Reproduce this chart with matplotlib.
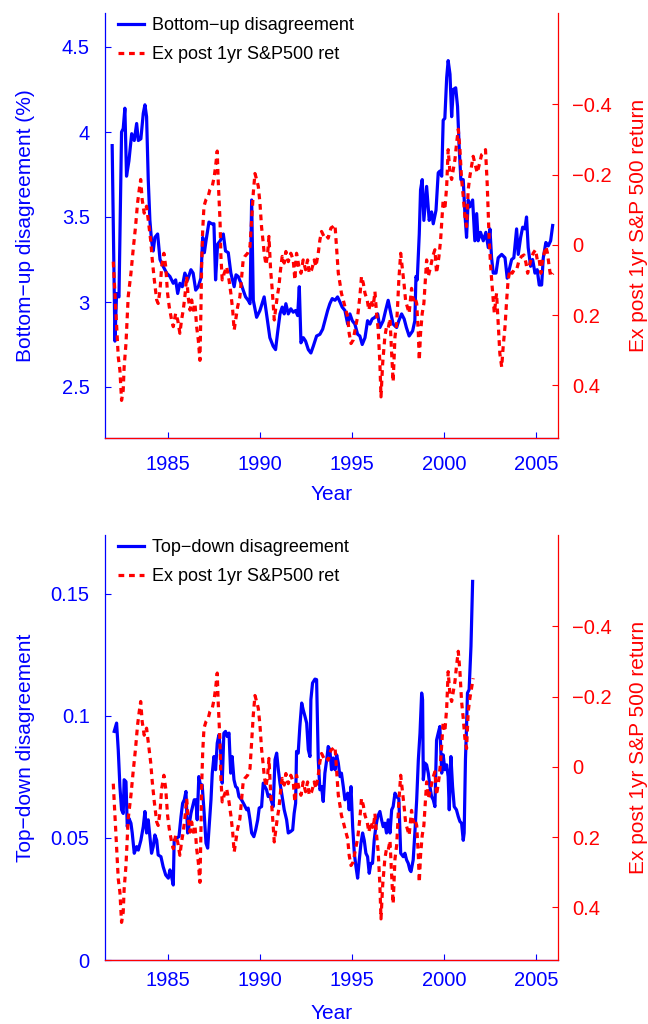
#!/usr/bin/env python3
import numpy as np
import matplotlib
matplotlib.use('Agg')
import matplotlib.pyplot as plt
from matplotlib.ticker import FuncFormatter

plt.rcParams['font.family'] = ['Liberation Sans', 'DejaVu Sans']

# Bottom-up disagreement (%)
bu_year = [1981.97, 1982.12, 1982.21, 1982.34, 1982.48, 1982.57, 1982.66, 1982.75, 1982.88, 1983.03,
           1983.17, 1983.30, 1983.39, 1983.53, 1983.66, 1983.75, 1983.84, 1983.93, 1984.02, 1984.11,
           1984.20, 1984.29, 1984.44, 1984.57, 1984.74, 1984.93, 1985.11, 1985.29, 1985.42, 1985.53,
           1985.65, 1985.78, 1985.92, 1986.07, 1986.25, 1986.37, 1986.51, 1986.65, 1986.79, 1986.89,
           1986.98, 1987.07, 1987.23, 1987.38, 1987.50, 1987.59, 1987.70, 1987.84, 1988.01, 1988.13,
           1988.28, 1988.42, 1988.60, 1988.70, 1988.82, 1988.97, 1989.09, 1989.22, 1989.36, 1989.46,
           1989.55, 1989.64, 1989.82, 1990.00, 1990.23, 1990.36, 1990.54, 1990.72, 1990.85, 1990.96,
           1991.09, 1991.21, 1991.32, 1991.41, 1991.54, 1991.68, 1991.81, 1991.94, 1992.05, 1992.14,
           1992.23, 1992.36, 1992.48, 1992.63, 1992.77, 1992.90, 1993.08, 1993.26, 1993.41, 1993.53,
           1993.68, 1993.80, 1993.93, 1994.08, 1994.22, 1994.35, 1994.47, 1994.62, 1994.77, 1994.89,
           1995.02, 1995.16, 1995.31, 1995.43, 1995.56, 1995.71, 1995.85, 1995.98, 1996.10, 1996.25,
           1996.40, 1996.52, 1996.70, 1996.83, 1996.97, 1997.12, 1997.24, 1997.43, 1997.55, 1997.70,
           1997.84, 1997.96, 1998.11, 1998.30, 1998.42, 1998.48, 1998.55, 1998.66, 1998.73, 1998.82,
           1998.91, 1999.06, 1999.20, 1999.33, 1999.42, 1999.57, 1999.69, 1999.78, 1999.88, 1999.96,
           2000.05, 2000.15, 2000.23, 2000.33, 2000.42, 2000.51, 2000.64, 2000.74, 2000.83, 2000.92,
           2001.05, 2001.14, 2001.23, 2001.32, 2001.41, 2001.56, 2001.68, 2001.78, 2001.86, 2001.99,
           2002.14, 2002.28, 2002.41, 2002.50, 2002.59, 2002.68, 2002.83, 2002.95, 2003.14, 2003.32,
           2003.44, 2003.55, 2003.68, 2003.80, 2003.95, 2004.04, 2004.17, 2004.28, 2004.40, 2004.49,
           2004.58, 2004.71, 2004.82, 2004.95, 2005.07, 2005.18, 2005.31, 2005.40, 2005.54, 2005.67,
           2005.80, 2005.91]
bu_val = [3.92, 2.77, 3.05, 3.03, 4.00, 4.02, 4.14, 3.74, 3.83, 3.99,
          3.95, 4.05, 3.95, 3.96, 4.11, 4.16, 4.09, 3.72, 3.48, 3.36,
          3.30, 3.38, 3.40, 3.25, 3.21, 3.17, 3.15, 3.11, 3.13, 3.05,
          3.11, 3.09, 3.17, 3.13, 3.19, 3.17, 3.07, 3.09, 3.14, 3.38,
          3.29, 3.36, 3.47, 3.46, 3.46, 3.13, 3.34, 3.36, 3.40, 3.30,
          3.29, 3.17, 3.09, 3.16, 3.15, 3.11, 3.07, 3.03, 3.01, 2.99,
          3.60, 3.01, 2.91, 2.95, 3.03, 2.93, 2.79, 2.74, 2.72, 2.82,
          2.93, 2.97, 2.93, 2.99, 2.93, 2.96, 2.94, 2.95, 2.92, 3.09,
          2.76, 2.79, 2.77, 2.72, 2.70, 2.74, 2.80, 2.81, 2.84, 2.89,
          2.95, 2.99, 3.02, 3.01, 3.03, 3.00, 2.97, 2.95, 2.87, 2.93,
          2.89, 2.87, 2.81, 2.80, 2.75, 2.79, 2.89, 2.87, 2.90, 2.91,
          2.93, 2.85, 2.89, 2.95, 3.01, 2.93, 2.87, 2.85, 2.89, 2.93,
          2.90, 2.85, 2.80, 2.83, 2.89, 3.15, 3.13, 3.40, 3.66, 3.72,
          3.48, 3.68, 3.48, 3.53, 3.46, 3.54, 3.76, 3.77, 3.74, 4.07,
          4.08, 4.32, 4.42, 4.34, 4.09, 4.25, 4.26, 4.15, 3.91, 3.72,
          3.72, 3.52, 3.38, 3.60, 3.56, 3.60, 3.36, 3.52, 3.36, 3.41,
          3.36, 3.41, 3.32, 3.43, 3.26, 3.17, 3.17, 3.26, 3.28, 3.26,
          3.14, 3.19, 3.25, 3.26, 3.43, 3.28, 3.38, 3.44, 3.43, 3.50,
          3.32, 3.21, 3.25, 3.17, 3.19, 3.10, 3.10, 3.26, 3.35, 3.33,
          3.36, 3.45]

# Top-down disagreement
td_year = [1982.08, 1982.21, 1982.30, 1982.39, 1982.48, 1982.57, 1982.62, 1982.72, 1982.79, 1982.88,
           1982.99, 1983.06, 1983.17, 1983.30, 1983.39, 1983.53, 1983.66, 1983.75, 1983.84, 1983.93,
           1984.02, 1984.11, 1984.20, 1984.29, 1984.39, 1984.47, 1984.62, 1984.74, 1984.88, 1985.02,
           1985.11, 1985.20, 1985.29, 1985.34, 1985.47, 1985.60, 1985.71, 1985.80, 1985.89, 1985.98,
           1986.07, 1986.14, 1986.25, 1986.34, 1986.43, 1986.52, 1986.59, 1986.68, 1986.78, 1986.86,
           1986.97, 1987.07, 1987.16, 1987.24, 1987.34, 1987.41, 1987.50, 1987.59, 1987.68, 1987.77,
           1987.86, 1987.95, 1988.04, 1988.13, 1988.22, 1988.32, 1988.41, 1988.49, 1988.59, 1988.68,
           1988.77, 1988.86, 1989.00, 1989.15, 1989.28, 1989.36, 1989.46, 1989.55, 1989.67, 1989.77,
           1989.88, 1989.96, 1990.09, 1990.18, 1990.27, 1990.36, 1990.45, 1990.54, 1990.63, 1990.72,
           1990.82, 1990.91, 1991.00, 1991.09, 1991.18, 1991.32, 1991.45, 1991.54, 1991.67, 1991.78,
           1991.86, 1991.94, 1991.99, 1992.08, 1992.17, 1992.27, 1992.35, 1992.45, 1992.54, 1992.63,
           1992.72, 1992.77, 1992.86, 1992.99, 1993.08, 1993.17, 1993.26, 1993.35, 1993.44, 1993.53,
           1993.63, 1993.71, 1993.80, 1993.89, 1993.98, 1994.08, 1994.17, 1994.26, 1994.35, 1994.43,
           1994.53, 1994.62, 1994.77, 1994.85, 1994.95, 1995.04, 1995.13, 1995.22, 1995.31, 1995.40,
           1995.49, 1995.58, 1995.67, 1995.76, 1995.85, 1995.94, 1996.03, 1996.12, 1996.21, 1996.30,
           1996.40, 1996.52, 1996.61, 1996.70, 1996.79, 1996.88, 1996.97, 1997.07, 1997.16, 1997.24,
           1997.34, 1997.43, 1997.55, 1997.65, 1997.79, 1997.88, 1997.97, 1998.06, 1998.15, 1998.21,
           1998.33, 1998.42, 1998.52, 1998.61, 1998.70, 1998.79, 1998.84, 1998.88, 1998.97, 1999.06,
           1999.15, 1999.24, 1999.33, 1999.42, 1999.51, 1999.60, 1999.69, 1999.78, 1999.88, 1999.96,
           2000.05, 2000.15, 2000.23, 2000.29, 2000.38, 2000.47, 2000.56, 2000.68, 2000.78, 2000.87,
           2000.96, 2001.05, 2001.10, 2001.17, 2001.23, 2001.28, 2001.37, 2001.47, 2001.56]
td_val = [0.0936, 0.0970, 0.0860, 0.0710, 0.0615, 0.0600, 0.0738, 0.0730, 0.0546, 0.0580,
          0.0560, 0.0520, 0.0437, 0.0464, 0.0450, 0.0490, 0.0546, 0.0608, 0.0520, 0.0574,
          0.0505, 0.0437, 0.0464, 0.0512, 0.0490, 0.0430, 0.0423, 0.0382, 0.0348, 0.0335,
          0.0369, 0.0341, 0.0307, 0.0490, 0.0499, 0.0505, 0.0587, 0.0642, 0.0656, 0.0690,
          0.0520, 0.0546, 0.0600, 0.0628, 0.0656, 0.0656, 0.0574, 0.0751, 0.0710, 0.0717,
          0.0600, 0.0478, 0.0458, 0.0546, 0.0656, 0.0765, 0.0833, 0.0779, 0.0888, 0.0922,
          0.0861, 0.0724, 0.0929, 0.0936, 0.0915, 0.0929, 0.0765, 0.0833, 0.0738, 0.0710,
          0.0704, 0.0669, 0.0656, 0.0635, 0.0615, 0.0622, 0.0574, 0.0520, 0.0505, 0.0533,
          0.0574, 0.0622, 0.0628, 0.0724, 0.0710, 0.0697, 0.0669, 0.0676, 0.0649, 0.0628,
          0.0820, 0.0847, 0.0779, 0.0724, 0.0683, 0.0615, 0.0574, 0.0520, 0.0526, 0.0533,
          0.0600, 0.0642, 0.0854, 0.0847, 0.0956, 0.1052, 0.1025, 0.0997, 0.0970, 0.0861,
          0.0833, 0.1066, 0.1134, 0.1150, 0.1148, 0.0820, 0.0697, 0.0710, 0.0649, 0.0765,
          0.0820, 0.0874, 0.0861, 0.0779, 0.0827, 0.0779, 0.0840, 0.0806, 0.0751, 0.0765,
          0.0710, 0.0656, 0.0683, 0.0615, 0.0710, 0.0546, 0.0437, 0.0382, 0.0335, 0.0410,
          0.0478, 0.0520, 0.0490, 0.0437, 0.0423, 0.0355, 0.0396, 0.0396, 0.0490, 0.0546,
          0.0587, 0.0608, 0.0574, 0.0546, 0.0560, 0.0520, 0.0574, 0.0520, 0.0615, 0.0628,
          0.0683, 0.0669, 0.0660, 0.0437, 0.0423, 0.0437, 0.0410, 0.0396, 0.0369, 0.0362,
          0.0410, 0.0520, 0.0656, 0.0820, 0.0929, 0.1093, 0.1066, 0.0738, 0.0806, 0.0799,
          0.0765, 0.0710, 0.0669, 0.0656, 0.0628, 0.0900, 0.0929, 0.0956, 0.0765, 0.0840,
          0.0779, 0.0799, 0.0751, 0.0615, 0.0833, 0.0710, 0.0628, 0.0615, 0.0587, 0.0567,
          0.0560, 0.0490, 0.0520, 0.0820, 0.0956, 0.1093, 0.1107, 0.1284, 0.1550]

# Ex post 1yr S&P500 return (plotted on reversed right axis)
ret_year = [1982.03, 1982.12, 1982.21, 1982.30, 1982.39, 1982.48, 1982.57, 1982.62, 1982.72, 1982.84,
            1982.99, 1983.11, 1983.24, 1983.35, 1983.44, 1983.52, 1983.60, 1983.71, 1983.84, 1983.93,
            1984.06, 1984.15, 1984.26, 1984.39, 1984.47, 1984.57, 1984.66, 1984.78, 1984.88, 1984.98,
            1985.07, 1985.20, 1985.29, 1985.42, 1985.53, 1985.65, 1985.74, 1985.83, 1985.92, 1986.02,
            1986.10, 1986.20, 1986.29, 1986.37, 1986.47, 1986.56, 1986.65, 1986.74, 1986.79, 1986.83,
            1986.89, 1986.96, 1987.07, 1987.19, 1987.28, 1987.41, 1987.52, 1987.61, 1987.68, 1987.73,
            1987.83, 1987.88, 1987.95, 1988.06, 1988.19, 1988.32, 1988.42, 1988.52, 1988.60, 1988.68,
            1988.79, 1988.91, 1989.01, 1989.09, 1989.18, 1989.33, 1989.46, 1989.55, 1989.64, 1989.73,
            1989.82, 1989.91, 1990.00, 1990.09, 1990.18, 1990.23, 1990.33, 1990.42, 1990.49, 1990.58,
            1990.67, 1990.78, 1990.85, 1990.94, 1991.03, 1991.12, 1991.21, 1991.32, 1991.41, 1991.54,
            1991.68, 1991.81, 1991.90, 1991.99, 1992.12, 1992.23, 1992.35, 1992.48, 1992.59, 1992.68,
            1992.81, 1992.95, 1993.04, 1993.17, 1993.26, 1993.35, 1993.48, 1993.59, 1993.71, 1993.86,
            1993.98, 1994.08, 1994.17, 1994.26, 1994.35, 1994.43, 1994.53, 1994.62, 1994.77, 1994.85,
            1994.95, 1995.07, 1995.20, 1995.31, 1995.43, 1995.52, 1995.62, 1995.71, 1995.83, 1995.92,
            1996.03, 1996.16, 1996.25, 1996.34, 1996.43, 1996.52, 1996.58, 1996.67, 1996.79, 1996.88,
            1996.97, 1997.07, 1997.16, 1997.24, 1997.34, 1997.43, 1997.48, 1997.55, 1997.65, 1997.73,
            1997.83, 1997.92, 1998.03, 1998.11, 1998.24, 1998.33, 1998.42, 1998.52, 1998.61, 1998.66,
            1998.73, 1998.82, 1998.91, 1999.00, 1999.06, 1999.15, 1999.28, 1999.39, 1999.51, 1999.60,
            1999.73, 1999.82, 1999.91, 1999.96, 2000.05, 2000.15, 2000.23, 2000.33, 2000.42, 2000.51,
            2000.60, 2000.69, 2000.78, 2000.87, 2000.96, 2001.05, 2001.14, 2001.23, 2001.32, 2001.41,
            2001.50, 2001.59, 2001.68, 2001.81, 2001.90, 2002.05, 2002.17, 2002.26, 2002.35, 2002.41,
            2002.46, 2002.54, 2002.65, 2002.74, 2002.86, 2002.95, 2003.04, 2003.14, 2003.22, 2003.32,
            2003.41, 2003.49, 2003.59, 2003.71, 2003.82, 2003.95, 2004.09, 2004.22, 2004.35, 2004.46,
            2004.55, 2004.63, 2004.73, 2004.85, 2004.98, 2005.09, 2005.18, 2005.27, 2005.36, 2005.45,
            2005.54, 2005.63, 2005.72, 2005.80, 2005.93]
ret_val = [0.048, 0.138, 0.224, 0.319, 0.357, 0.443, 0.414, 0.348, 0.281, 0.148,
           0.081, 0.014, -0.052, -0.119, -0.157, -0.186, -0.129, -0.090, -0.110, -0.071,
           -0.014, 0.043, 0.100, 0.157, 0.167, 0.129, 0.062, 0.024, 0.062, 0.138,
           0.176, 0.214, 0.233, 0.195, 0.214, 0.252, 0.214, 0.186, 0.148, 0.090,
           0.148, 0.186, 0.157, 0.186, 0.167, 0.233, 0.271, 0.329, 0.195, 0.062,
           -0.043, -0.110, -0.129, -0.138, -0.157, -0.167, -0.195, -0.233, -0.267, -0.186,
           -0.071, 0.033, 0.100, 0.081, 0.062, 0.100, 0.138, 0.186, 0.243, 0.214,
           0.176, 0.148, 0.090, 0.043, 0.033, 0.024, 0.005, -0.071, -0.148, -0.203,
           -0.186, -0.167, -0.120, -0.050, -0.005, 0.024, 0.057, 0.024, -0.024, 0.071,
           0.129, 0.214, 0.186, 0.148, 0.119, 0.071, 0.033, 0.052, 0.019, 0.048,
           0.024, 0.043, 0.100, 0.024, 0.062, 0.081, 0.043, 0.071, 0.043, 0.081,
           0.071, 0.043, 0.062, 0.024, -0.014, -0.038, -0.024, -0.029, -0.019, -0.048,
           -0.052, -0.057, 0.014, 0.081, 0.110, 0.138, 0.157, 0.176, 0.205, 0.252,
           0.281, 0.271, 0.233, 0.205, 0.148, 0.090, 0.110, 0.138, 0.157, 0.186,
           0.157, 0.176, 0.133, 0.195, 0.243, 0.338, 0.433, 0.338, 0.262, 0.233,
           0.238, 0.210, 0.310, 0.390, 0.262, 0.224, 0.176, 0.100, 0.024, 0.062,
           0.110, 0.160, 0.180, 0.195, 0.124, 0.157, 0.148, 0.167, 0.252, 0.329,
           0.252, 0.195, 0.167, 0.090, 0.043, 0.090, 0.062, 0.033, 0.014, 0.081,
           0.033, -0.014, -0.090, -0.129, -0.100, -0.167, -0.271, -0.205, -0.186, -0.214,
           -0.243, -0.290, -0.329, -0.271, -0.186, -0.138, -0.081, -0.052, -0.157, -0.195,
           -0.224, -0.252, -0.233, -0.205, -0.224, -0.257, -0.262, -0.271, -0.176, -0.090,
           -0.014, 0.062, 0.138, 0.195, 0.138, 0.224, 0.310, 0.348, 0.290, 0.233,
           0.157, 0.100, 0.071, 0.081, 0.071, 0.071, 0.043, 0.033, 0.029, 0.052,
           0.081, 0.062, 0.043, 0.024, 0.014, 0.048, 0.043, 0.081, 0.043, 0.024,
           0.005, 0.024, 0.062, 0.090, 0.081]

xticks = [1985, 1990, 1995, 2000, 2005]
ret_ticks = [-0.4, -0.2, 0, 0.2, 0.4]
bu_ticks = [2.5, 3, 3.5, 4, 4.5]
td_ticks = [0, 0.05, 0.1, 0.15]
td_ret_end = 2001.6   # return series in lower panel stops with top-down data

BLUE = (0, 0, 1)
RED = (1, 0, 0)


def fmt(v, pos):
    return ('%g' % v).replace('-', '\u2212')


def panel(fig, rect, yr, val, ylim, yticks, ylabel, name, ryr, rval, xpad, xlab_y):
    ax1 = fig.add_axes(rect)
    ax2 = ax1.twinx()

    l1, = ax1.plot(yr, val, color=BLUE, lw=2.3)
    l2, = ax2.plot(ryr, rval, color=RED, lw=2.3, dashes=(1.8, 1.5))

    ax1.set_xlim(1981.58, 2006.2)
    ax1.set_ylim(*ylim)
    ax2.set_ylim(0.55, -0.66)

    ax1.set_xticks(xticks)
    ax1.set_yticks(yticks)
    ax2.set_yticks(ret_ticks)
    ax1.yaxis.set_major_formatter(FuncFormatter(fmt))
    ax2.yaxis.set_major_formatter(FuncFormatter(fmt))

    for s in ['top', 'right']:
        ax1.spines[s].set_visible(False)
    for s in ['top', 'left']:
        ax2.spines[s].set_visible(False)
    ax1.spines['left'].set_color(BLUE)
    ax1.spines['bottom'].set_color(BLUE)
    ax2.spines['right'].set_color(RED)
    ax2.spines['bottom'].set_color(RED)
    for ax in (ax1, ax2):
        for s in ax.spines.values():
            s.set_linewidth(0.9)

    ax1.tick_params(axis='y', direction='in', length=4, width=0.8, colors=BLUE,
                    labelsize=14.5, pad=11)
    ax1.tick_params(axis='x', direction='in', length=4, width=0.8, colors=BLUE,
                    labelsize=14.5, pad=xpad)
    ax2.tick_params(axis='y', direction='in', length=4, width=0.8, colors=RED,
                    labelsize=14.5, pad=10)

    ax1.set_ylabel(ylabel, color=BLUE, fontsize=15, va='center')
    ax1.yaxis.set_label_coords(-0.175, 0.5)
    ax2.set_ylabel('Ex post 1yr S&P 500 return', color=RED, fontsize=15, va='center')
    ax2.yaxis.set_label_coords(1.177, 0.5)
    ax1.set_xlabel('Year', color=BLUE, fontsize=15, va='center')
    ax1.xaxis.set_label_coords(0.5, xlab_y)

    ax2.legend([l1, l2], [name, 'Ex post 1yr S&P500 ret'], loc='upper left',
               bbox_to_anchor=(0.028, 0.99), frameon=False, fontsize=13,
               handlelength=1.45, handletextpad=0.45, labelspacing=0.65,
               borderpad=0, borderaxespad=0)
    return ax1, ax2


fig = plt.figure(figsize=(6.48, 10.24), dpi=100)

panel(fig, [105 / 648, 1 - 438 / 1024, 453 / 648, 425 / 1024],
      bu_year, bu_val, (2.2, 4.7), bu_ticks, 'Bottom\u2212up disagreement (%)',
      'Bottom\u2212up disagreement', ret_year, ret_val, 12, -0.134)

ry = np.array(ret_year)
rv = np.array(ret_val)
keep = ry <= td_ret_end
panel(fig, [105 / 648, 1 - 960 / 1024, 453 / 648, 425 / 1024],
      td_year, td_val, (0, 0.174), td_ticks, 'Top\u2212down disagreement',
      'Top\u2212down disagreement', ry[keep], rv[keep], 8, -0.125)

fig.savefig('out.png', dpi=100)
